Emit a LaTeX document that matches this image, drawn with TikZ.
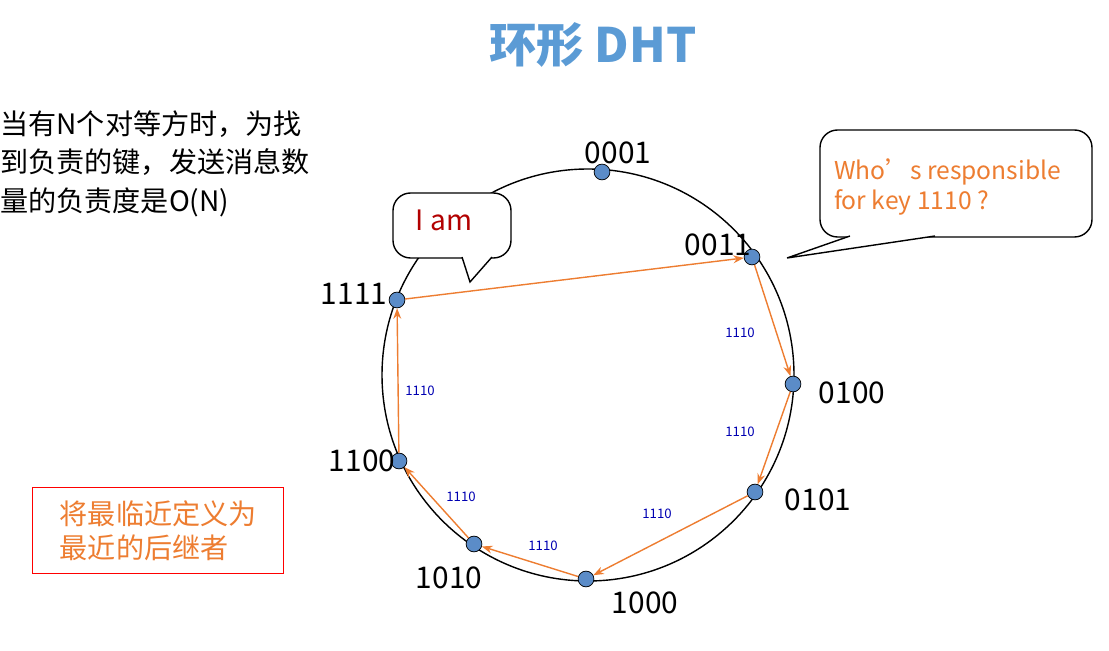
\documentclass[tikz,border=0pt]{standalone}
\usepackage{fontspec}
\setmainfont{Noto Sans CJK SC}
\usetikzlibrary{arrows.meta}
\definecolor{dhtblue}{RGB}{91,155,213}
\definecolor{dhtorange}{RGB}{237,125,49}
\definecolor{dhtdot}{RGB}{91,140,200}
\tikzset{
  peer/.style={circle, draw=black, fill=dhtdot, inner sep=0pt, minimum size=9pt},
  plabel/.style={font=\fontsize{17}{17}\selectfont},
  hop/.style={draw=dhtorange, thick, -{Stealth[length=6pt]}},
  hoplabel/.style={font=\fontsize{7.5}{8}\selectfont, text=blue!70!black},
  bubble/.style={draw=black, thick, rounded corners=10pt, fill=white}
}
\begin{document}
\begin{tikzpicture}[x=0.02cm,y=-0.02cm]
  \useasboundingbox (0,0) rectangle (1109,651);
  \node[font=\bfseries\fontsize{27}{27}\selectfont, text=dhtblue] (title) at (593,45) {环形 DHT};
  \node[anchor=north west, align=left, font=\fontsize{16}{22}\selectfont, inner sep=0pt] (intro) at (0,110)
    {当有N个对等方时，为找\\到负责的键，发送消息数\\量的负责度是\textit{O(N)}};
  \draw[thick] (588,375) circle (206);
  \node[peer] (p0001) at (602,172) {};
  \node[peer] (p0011) at (752,257) {};
  \node[peer] (p0100) at (793,384) {};
  \node[peer] (p0101) at (755,492) {};
  \node[peer] (p1000) at (586,579) {};
  \node[peer] (p1010) at (474,544) {};
  \node[peer] (p1100) at (399,461) {};
  \node[peer] (p1111) at (397,300) {};
  \node[plabel] (l0001) at (618,153) {0001};
  \node[plabel] (l0011) at (718,245) {0011};
  \node[plabel] (l0100) at (852,393) {0100};
  \node[plabel] (l0101) at (818,500) {0101};
  \node[plabel] (l1000) at (645,603) {1000};
  \node[plabel] (l1010) at (449,578) {1010};
  \node[plabel] (l1100) at (362,461) {1100};
  \node[plabel] (l1111) at (354,294) {1111};
  \draw[hop] (p0011) -- (p0100);
  \draw[hop] (p0100) -- (p0101);
  \draw[hop] (p0101) -- (p1000);
  \draw[hop] (p1000) -- (p1010);
  \draw[hop] (p1010) -- (p1100);
  \draw[hop] (p1100) -- (p1111);
  \draw[hop] (p1111) -- (p0011);
  \foreach \x/\y in {740/333, 740/432, 657/514, 543/546, 461/497, 420/391}
    \node[hoplabel] at (\x,\y) {1110};
  % speech bubbles
  \draw[bubble] (393,193) rectangle (511,258);
  \draw[thick, fill=white] (462,257) -- (470,282) -- (492,257);
  \node[font=\fontsize{16}{16}\selectfont, text=red!70!black] (iam) at (444,220) {I am};
  \draw[bubble] (820,130) rectangle (1092,237);
  \draw[thick, fill=white] (850,236) -- (787,258) -- (935,236);
  \node[anchor=west, align=left, font=\fontsize{14}{17}\selectfont, text=dhtorange] (who) at (828,187)
    {Who’s responsible\\for key 1110 ?};
  \node[draw=red, thick, align=left, anchor=north west, minimum width=251*0.02cm, minimum height=86*0.02cm,
        font=\fontsize{16}{19}\selectfont, text=dhtorange] (succ) at (32,487)
    {将最临近定义为\\最近的后继者};
\end{tikzpicture}
\end{document}
